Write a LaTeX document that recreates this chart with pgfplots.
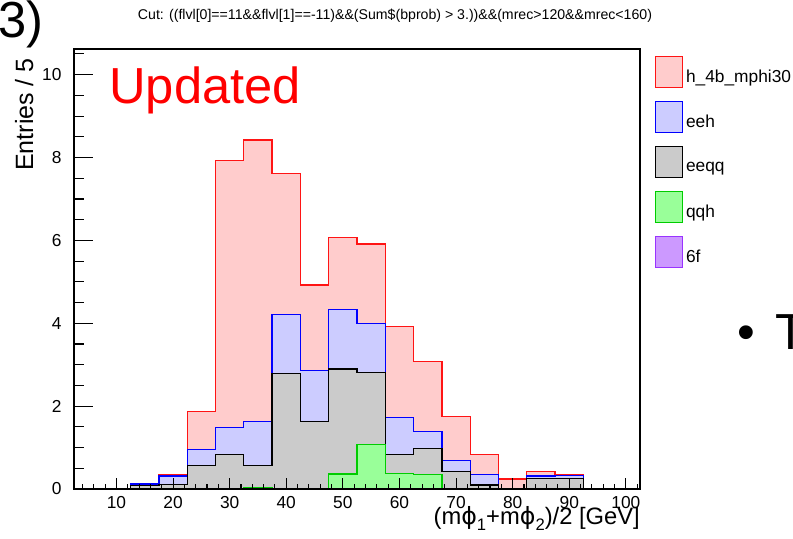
\documentclass[border=0pt]{standalone}
\usepackage{fontspec}
\setmainfont{Liberation Sans}
\newfontfamily\dejavu{DejaVu Sans}
\usepackage{pgfplots}
\usepackage{pgfplotstable}
\pgfplotsset{compat=1.18}
\definecolor{redfill}{RGB}{255,204,204}
\definecolor{redline}{RGB}{255,20,20}
\definecolor{bluefill}{RGB}{204,204,255}
\definecolor{blueline}{RGB}{0,0,255}
\definecolor{greyfill}{RGB}{203,203,203}
\definecolor{greenfill}{RGB}{153,255,153}
\definecolor{greenline}{RGB}{0,204,0}
\definecolor{purplefill}{RGB}{204,153,255}
\definecolor{purpleline}{RGB}{153,51,255}
% cumulative (stacked) bin contents, bins of width 5, left edges
\pgfplotstableread{
x     red   blue  grey  green purple
2.5   0     0     0     0     0
7.5   0     0     0     0     0
12.5  0.12  0.12  0.08  0     0
17.5  0.345 0.31  0.11  0     0
22.5  1.87  0.96  0.57  0     0
27.5  7.93  1.49  0.84  0     0
32.5  8.42  1.63  0.56  0.03  0
37.5  7.62  4.21  2.78  0     0
42.5  4.92  2.86  1.63  0     0
47.5  6.07  4.33  2.90  0.36  0
52.5  5.91  3.99  2.81  1.07  0
57.5  3.93  1.72  0.83  0.37  0
62.5  3.07  1.38  0.97  0.35  0
67.5  1.75  0.69  0.43  0     0
72.5  0.84  0.35  0.10  0     0
77.5  0.24  0.02  0     0     0
82.5  0.42  0.31  0.26  0.02  0
87.5  0.35  0.32  0.26  0     0
92.5  0.02  0     0     0     0
97.5  0     0     0     0     0
102.5 0     0     0     0     0
}\hdata
\newcommand\px[1]{#1*0.75pt}
\pgfplotsset{
  rootframe/.style={
    at={(\px{74},\px{50})}, anchor=south west,
    scale only axis, width=\px{566}, height=\px{440},
    xmin=2.5, xmax=102.5, ymin=0, ymax=10.62,
    axis line style={line width=0.8pt},
    xtick pos=bottom, ytick pos=left, tick align=inside,
    tick style={line width=0.8pt, black},
    /pgf/number format/assume math mode=true,
    ticklabel style={font=\fontsize{13}{13}\selectfont},
  },
}
\begin{document}
\begin{tikzpicture}
\path[use as bounding box] (0,0) rectangle (\px{793},\px{539});
\begin{axis}[
  rootframe,
  xtick=\empty,
  ytick={0,2,...,10}, minor ytick={0,0.5,...,10.5},
  major tick length=14.5pt, minor tick length=7.5pt,
  yticklabel style={anchor=east, inner sep=0pt, xshift=-9.2pt},
  ylabel={Entries / 5},
  label style={font=\fontsize{18.75}{20}\selectfont},
  ylabel style={at={(axis description cs:-0.0724,0.9795)}, anchor=base east, inner sep=0pt},
  legend image code/.code={\draw[#1, line width=0.8pt] (0pt,-7.6pt) rectangle (20.25pt,15.65pt);},
  legend style={draw=none, fill=none, at={(1,1)}, anchor=north west,
    xshift=11.25pt, yshift=-5pt, inner sep=0pt, row sep=9.75pt,
    font=\fontsize{13}{15}\selectfont},
  legend cell align=left,
]
\addplot[const plot mark left, fill=redfill, draw=redline, line width=1pt] table[x=x, y=red] {\hdata} \closedcycle;
\addlegendentry{h\_4b\_mphi30}
\addplot[const plot mark left, fill=bluefill, draw=blueline, line width=1pt] table[x=x, y=blue] {\hdata} \closedcycle;
\addlegendentry{eeh}
\addplot[const plot mark left, fill=greyfill, draw=black, line width=1pt] table[x=x, y=grey] {\hdata} \closedcycle;
\addlegendentry{eeqq}
\addplot[const plot mark left, fill=greenfill, draw=greenline, line width=1pt] table[x=x, y=green] {\hdata} \closedcycle;
\addlegendentry{qqh}
\addplot[const plot mark left, fill=purplefill, draw=purpleline, line width=1pt] table[x=x, y=purple] {\hdata} \closedcycle;
\addlegendentry{6f}
\end{axis}
\begin{axis}[
  rootframe,
  ytick=\empty,
  xtick={10,20,...,100}, minor xtick={4,6,...,102},
  major tick length=8pt, minor tick length=3.9pt,
  xticklabel style={anchor=base, yshift=-15pt},
  xlabel={(m{\dejavu ϕ}\raisebox{-5pt}{\fontsize{12.5}{13}\selectfont 1}+m{\dejavu ϕ}\raisebox{-5pt}{\fontsize{12.5}{13}\selectfont 2})/2 [GeV]},
  label style={font=\fontsize{17.8}{19}\selectfont},
  xlabel style={at={(axis description cs:1,-0.08)}, anchor=base east, inner sep=0pt},
]
\end{axis}
\node[anchor=base, inner sep=0pt, font=\fontsize{10.6}{12}\selectfont] at (\px{395},\px{519.5})
  {Cut: ((flvl[0]==11\&\&flvl[1]==-11)\&\&(Sum\$(bprob) > 3.))\&\&(mrec>120\&\&mrec<160)};
\node[anchor=base west, inner sep=0pt, text=red, font=\fontsize{38}{40}\selectfont] at (\px{109},\px{435.7}) {Updated};
\node[anchor=base west, inner sep=0pt, font=\fontsize{38}{40}\selectfont] at (\px{-2},\px{501}) {3)};
\node[anchor=base, inner sep=0pt, font=\fontsize{38}{40}\selectfont] at (\px{746.7},\px{189}) {•};
\node[anchor=base, inner sep=0pt, font=\fontsize{38}{40}\selectfont] at (\px{791},\px{189}) {T};
\end{tikzpicture}
\end{document}
